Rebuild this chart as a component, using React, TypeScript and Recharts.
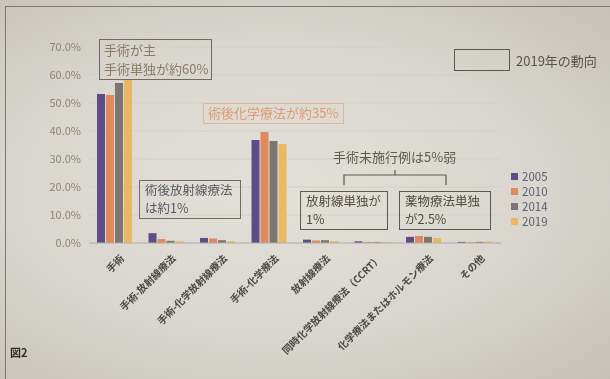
import { BarChart, Bar, XAxis, YAxis, CartesianGrid } from 'recharts';

const categories = [
  '手術',
  '手術-放射線療法',
  '手術-化学放射線療法',
  '手術-化学療法',
  '放射線療法',
  '同時化学放射線療法（CCRT）',
  '化学療法またはホルモン療法',
  'その他',
];
const years = ['2005', '2010', '2014', '2019'];
const v2005 = [0.532, 0.035, 0.018, 0.368, 0.012, 0.006, 0.022, 0.004];
const v2010 = [0.529, 0.014, 0.016, 0.396, 0.009, 0.004, 0.025, 0.003];
const v2014 = [0.571, 0.008, 0.010, 0.364, 0.010, 0.003, 0.022, 0.004];
const v2019 = [0.585, 0.006, 0.006, 0.354, 0.007, 0.003, 0.018, 0.005];
const yTicks = [0, 0.1, 0.2, 0.3, 0.4, 0.5, 0.6, 0.7];
const colors = ['#5d4d88', '#e08a5c', '#7b7770', '#e9b860'];

const data = categories.map((name, i) => ({
  name,
  '2005': v2005[i],
  '2010': v2010[i],
  '2014': v2014[i],
  '2019': v2019[i],
}));

const font = '"Noto Sans CJK JP", "Noto Sans", sans-serif';

const XTick = (props: any) => {
  const { x, y, payload } = props;
  return (
    <g transform={`translate(${x + 7},${y + 5})`}>
      <text
        transform="rotate(-45)"
        textAnchor="end"
        dominantBaseline="central"
        fontSize={10}
        fontWeight="bold"
        fill="#4a4744"
        fontFamily={font}
      >
        {payload.value}
      </text>
    </g>
  );
};

const box = (left: number, top: number, w: number, h: number, color: string, border: string) => ({
  position: 'absolute' as const,
  left,
  top,
  width: w,
  height: h,
  border: `1.5px solid ${border}`,
  boxSizing: 'border-box' as const,
  color,
  fontSize: 12,
  lineHeight: '18px',
  padding: '0 5px',
  whiteSpace: 'nowrap' as const,
});

const Line2 = ({ a, b, h }: { a: string; b: string; h: number }) => (
  <>
    <div style={{ height: h, lineHeight: `${h}px` }}>{a}</div>
    <div style={{ height: h, lineHeight: `${h}px` }}>{b}</div>
  </>
);

export default function App() {
  return (
    <div
      style={{
        position: 'fixed',
        left: 0,
        top: 0,
        width: 610,
        height: 379,
        overflow: 'hidden',
        fontFamily: font,
        background: 'radial-gradient(ellipse at 45% 50%, #e3e0d9 0%, #d9d6cf 55%, #c5c1b9 100%)',
      }}
    >
      <div style={{ position: 'absolute', left: 5, top: 6, width: 620, height: 400, borderTop: '1.5px solid #7d7a75', borderLeft: '1.5px solid #7d7a75' }} />
      <BarChart
        width={610}
        height={379}
        data={data}
        margin={{ top: 47, right: 109, bottom: 106, left: 9 }}
        barCategoryGap={8}
        barGap={1}
      >
        <CartesianGrid vertical={false} stroke="#d2cfc8" />
        <XAxis
          dataKey="name"
          height={30}
          tick={<XTick />}
          tickLine={false}
          axisLine={{ stroke: '#b3afa8' }}
          interval={0}
        />
        <YAxis
          width={80}
          domain={[0, 0.7]}
          ticks={yTicks}
          tickFormatter={(v: number) => `${(v * 100).toFixed(1)}%`}
          tick={{ fontSize: 11, fill: '#8e8574', fontFamily: font }}
          axisLine={false}
          tickLine={false}
        />
        {years.map((y, i) => (
          <Bar key={y} dataKey={y} fill={colors[i]} isAnimationActive={false} />
        ))}
      </BarChart>

      {years.map((y, i) => (
        <div
          key={y}
          style={{ position: 'absolute', left: 511, top: 169 + i * 15, fontSize: 11.5, lineHeight: '15px', color: '#5c6070', display: 'flex', alignItems: 'center' }}
        >
          <span style={{ display: 'inline-block', width: 7, height: 7, background: colors[i], marginRight: 4 }} />
          {y}
        </div>
      ))}

      <div style={{ ...box(99, 39, 113, 41, '#8a7c62', '#6f6a62'), fontSize: 13, padding: '0 4px' }}>
        <Line2 a="手術が主" b="手術単独が約60%" h={19} />
      </div>
      <div style={{ ...box(203, 103, 141, 21, '#e39a70', '#e6b49a'), fontSize: 13, padding: '0 4px' }}>術後化学療法が約35%</div>
      <div style={{ ...box(139, 180, 102, 39, '#55585f', '#6f6a62'), fontSize: 12.5 }}>
        <Line2 a="術後放射線療法" b="は約1%" h={18} />
      </div>
      <div style={{ position: 'absolute', left: 333, top: 147, fontSize: 13, color: '#5e5a52' }}>手術未施行例は5%弱</div>
      <svg style={{ position: 'absolute', left: 0, top: 0 }} width={610} height={379}>
        <path d="M344,185 L344,175 L395,175 L395,170 M395,175 L446,175 L446,185" fill="none" stroke="#5e5a52" strokeWidth={1.2} />
      </svg>
      <div style={{ ...box(300, 191, 88, 39, '#4f4a40', '#5c5850'), fontSize: 12.5 }}>
        <Line2 a="放射線単独が" b="1%" h={18} />
      </div>
      <div style={{ ...box(399, 191, 92, 39, '#4f4a40', '#5c5850'), fontSize: 12.5 }}>
        <Line2 a="薬物療法単独" b="が2.5%" h={18} />
      </div>
      <div style={{ ...box(454, 49, 56, 22, '#000', '#5c5850') }} />
      <div style={{ position: 'absolute', left: 516, top: 51, fontSize: 13, color: '#5a5444' }}>2019年の動向</div>
      <div style={{ position: 'absolute', left: 10, top: 344, fontSize: 11, color: '#2e2d2b', fontWeight: 'bold' }}>図2</div>
    </div>
  );
}
